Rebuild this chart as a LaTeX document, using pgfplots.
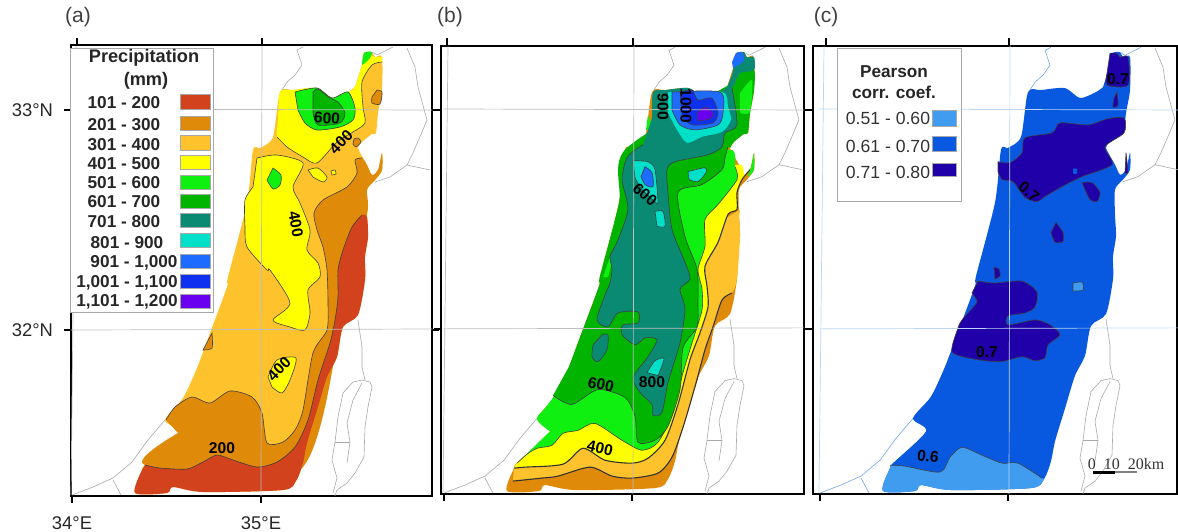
\documentclass[border=0pt]{standalone}
\usepackage{fontspec}
\setmainfont{Liberation Sans}
\newfontfamily\serifx{Liberation Serif}
\usepackage{pgfplots}
\usepackage{pgfplotstable}
\pgfplotsset{compat=1.18}
\definecolor{cR}{HTML}{D2421C}
\definecolor{cO}{HTML}{E08A0A}
\definecolor{cL}{HTML}{FDC22C}
\definecolor{cY}{HTML}{FFFF00}
\definecolor{cG}{HTML}{10F010}
\definecolor{cD}{HTML}{00B400}
\definecolor{cT}{HTML}{0A8A72}
\definecolor{cC}{HTML}{00E0C8}
\definecolor{cB}{HTML}{1E6BFF}
\definecolor{cN}{HTML}{1030F0}
\definecolor{cP}{HTML}{6A00F0}
\definecolor{pL}{HTML}{3F9CEF}
\definecolor{pM}{HTML}{0858E0}
\definecolor{pD}{HTML}{2000A8}
\definecolor{cont}{HTML}{404040}
\definecolor{gridg}{HTML}{BEBEBE}
\definecolor{gridb}{HTML}{BBD6F2}
\definecolor{bord}{HTML}{A8A8A8}
\definecolor{bordb}{HTML}{6FA6E6}
% land
\pgfplotstableread[row sep=\\]{x y\\362 65\\364 53\\372 52\\375 57\\382 57\\382 90\\378 113\\376 133\\372 134\\362 142\\358 148\\367 165\\372 175\\378 170\\382 153\\382 170\\375 180\\367 190\\367 215\\368 237\\365 257\\365 280\\358 315\\343 327\\337 357\\327 377\\317 410\\307 443\\303 463\\296 481\\283 490\\203 492\\173 487\\167 493\\135 493\\142 470\\145 465\\178 433\\165 420\\183 398\\197 368\\210 333\\227 287\\228 277\\247 203\\253 150\\260 148\\273 137\\280 92\\293 90\\317 88\\332 98\\348 92\\355 87\\}\tLand
% borders
\pgfplotstableread[row sep=\\]{x y\\282 90\\287 82\\295 75\\302 65\\297 50\\303 47\\}\bLeb
\pgfplotstableread[row sep=\\]{x y\\372 52\\377 55\\393 47\\}\bFin
\pgfplotstableread[row sep=\\]{x y\\407 48\\415 67\\418 87\\427 120\\413 153\\407 165\\390 177\\375 182\\}\bEast
\pgfplotstableread[row sep=\\]{x y\\407 165\\430 170\\}\bJor
\pgfplotstableread[row sep=\\]{x y\\358 320\\362 347\\362 367\\365 380\\}\bRiv
\pgfplotstableread[row sep=\\]{x y\\353 382\\362 380\\370 382\\372 387\\368 407\\365 427\\364 457\\355 473\\347 483\\337 490\\335 496\\}\bDsR
\pgfplotstableread[row sep=\\]{x y\\353 382\\343 393\\338 417\\335 442\\332 460\\337 478\\333 493\\}\bDsL
\pgfplotstableread[row sep=\\]{x y\\362 383\\353 400\\347 423\\350 442\\347 463\\}\bDsI
\pgfplotstableread[row sep=\\]{x y\\335 442\\350 442\\}\bDsH
\pgfplotstableread[row sep=\\]{x y\\165 420\\148 440\\132 462\\113 478\\93 487\\72 495\\}\bSin
\pgfplotstableread[row sep=\\]{x y\\113 480\\121 495\\}\bSiB
% panel a
\pgfplotstableread[row sep=\\]{x y\\166 420\\175 407\\192 397\\210 403\\230 391\\252 397\\262 413\\267 443\\283 442\\295 430\\303 410\\313 353\\327 330\\328 303\\327 270\\323 247\\317 230\\314 213\\323 200\\347 187\\357 173\\355 160\\362 158\\367 165\\372 175\\378 170\\382 153\\382 170\\375 180\\367 190\\367 215\\345 300\\300 470\\145 465\\178 433\\}\aO
\pgfplotstableread[row sep=\\]{x y\\145 465\\160 468\\187 469\\203 462\\217 455\\233 460\\257 467\\277 462\\295 447\\308 420\\318 380\\330 343\\335 320\\338 297\\338 270\\343 250\\352 227\\362 215\\367 217\\368 237\\365 257\\365 280\\358 315\\343 327\\337 357\\327 377\\317 410\\307 443\\303 463\\296 481\\283 490\\203 492\\173 487\\167 493\\135 493\\142 470\\}\aR
\pgfplotstableread[row sep=\\]{x y\\382 62\\372 65\\362 82\\363 107\\365 123\\353 132\\337 142\\317 163\\303 157\\287 147\\277 137\\278 120\\280 92\\293 90\\317 88\\332 98\\348 92\\355 87\\362 65\\364 53\\375 57\\382 57\\}\aYn
\pgfplotstableread[row sep=\\]{x y\\257 158\\277 155\\303 163\\293 187\\300 203\\310 230\\307 250\\318 263\\320 277\\308 290\\310 313\\305 330\\290 327\\273 320\\290 303\\270 270\\267 270\\247 247\\245 227\\245 200\\253 187\\}\aYw
\pgfplotstableread[row sep=\\]{x y\\268 377\\277 360\\296 358\\290 380\\282 393\\272 387\\}\aYs
\pgfplotstableread[row sep=\\]{x y\\308 170\\318 168\\327 177\\323 182\\313 177\\}\aYi
\pgfplotstableread[row sep=\\]{x y\\331 171\\335 170\\336 174\\332 175\\}\aYd
\pgfplotstableread[row sep=\\]{x y\\273 168\\281 175\\280 185\\273 189\\267 180\\}\aGb
\pgfplotstableread[row sep=\\]{x y\\295 92\\317 88\\332 98\\348 92\\355 108\\353 120\\340 127\\317 130\\305 123\\298 110\\}\aGn
\pgfplotstableread[row sep=\\]{x y\\313 92\\318 89\\330 98\\338 102\\345 113\\340 123\\318 125\\313 113\\}\aDn
\pgfplotstableread[row sep=\\]{x y\\362 65\\364 53\\372 52\\370 58\\365 63\\}\aGf
\pgfplotstableread[row sep=\\]{x y\\377 90\\382 92\\380 104\\372 103\\372 97\\}\aOb
\pgfplotstableread[row sep=\\]{x y\\354 139\\358 138\\361 142\\356 147\\353 144\\}\aOc
\pgfplotstableread[row sep=\\]{x y\\212 333\\212 348\\203 350\\}\aOs
% panel b
\pgfplotstableread[row sep=\\]{x y\\141 483\\170 480\\186 478\\218 469\\240 478\\260 480\\286 475\\300 459\\311 429\\323 388\\333 351\\341 328\\350 301\\360 294\\365 280\\368 237\\367 217\\365 212\\320 250\\178 433\\145 465\\142 470\\}\bL
\pgfplotstableread[row sep=\\]{x y\\142 470\\153 469\\191 466\\211 450\\233 462\\260 465\\276 460\\293 442\\306 406\\318 361\\328 334\\336 308\\335 287\\333 267\\346 243\\356 215\\365 210\\365 193\\370 180\\378 170\\372 175\\367 165\\320 180\\300 300\\178 433\\145 465\\}\bY
\pgfplotstableread[row sep=\\]{x y\\145 465\\155 456\\165 450\\180 447\\191 435\\206 432\\223 425\\250 442\\270 452\\286 444\\301 414\\311 374\\321 341\\330 311\\330 290\\326 270\\333 247\\333 220\\346 205\\365 180\\363 167\\358 150\\300 170\\260 280\\181 399\\165 420\\178 433\\}\bG
\pgfplotstableread[row sep=\\]{x y\\181 397\\200 406\\226 391\\253 399\\263 418\\266 444\\283 442\\296 428\\308 391\\311 349\\325 328\\326 304\\325 270\\313 237\\306 193\\330 185\\350 170\\353 158\\356 147\\358 148\\362 142\\372 134\\376 133\\378 113\\382 90\\382 70\\368 73\\361 87\\353 87\\253 150\\247 203\\228 277\\227 287\\210 333\\197 368\\}\bD
\pgfplotstableread[row sep=\\]{x y\\360 88\\365 125\\353 133\\350 147\\336 155\\303 162\\295 170\\296 193\\300 230\\313 263\\318 280\\308 290\\313 310\\308 344\\296 384\\290 414\\281 417\\280 406\\268 394\\261 379\\276 358\\285 341\\273 339\\263 346\\250 336\\251 326\\266 324\\266 313\\246 314\\236 328\\225 321\\233 296\\238 284\\240 270\\238 257\\245 243\\256 210\\250 180\\255 158\\266 148\\271 145\\276 130\\280 117\\281 92\\293 90\\317 88\\332 98\\348 92\\355 87\\}\bT
\pgfplotstableread[row sep=\\]{x y\\362 65\\364 53\\372 52\\375 57\\382 57\\382 70\\368 73\\361 87\\355 88\\360 75\\}\bTf
\pgfplotstableread[row sep=\\]{x y\\360 62\\364 53\\370 52\\372 60\\366 65\\361 68\\}\bBf
\pgfplotstableread[row sep=\\]{x y\\230 336\\236 336\\235 351\\226 363\\220 358\\221 346\\}\bTi
\pgfplotstableread[row sep=\\]{x y\\368 93\\380 80\\378 112\\368 113\\}\bGne
\pgfplotstableread[row sep=\\]{x y\\231 278\\241 250\\240 262\\236 278\\}\bGw
\pgfplotstableread[row sep=\\]{x y\\276 115\\280 127\\274 130\\}\bGc
\pgfplotstableread[row sep=\\]{x y\\382 153\\382 170\\376 177\\379 168\\}\bGl
\pgfplotstableread[row sep=\\]{x y\\296 92\\350 92\\356 107\\359 120\\350 132\\330 137\\315 143\\305 130\\296 113\\}\bCn
\pgfplotstableread[row sep=\\]{x y\\300 92\\348 92\\351 113\\346 125\\323 130\\308 125\\300 110\\}\bBn
\pgfplotstableread[row sep=\\]{x y\\308 92\\320 90\\326 100\\340 98\\346 113\\341 123\\320 125\\310 117\\}\bNn
\pgfplotstableread[row sep=\\]{x y\\325 113\\333 107\\341 113\\338 119\\326 121\\}\bPn
\pgfplotstableread[row sep=\\]{x y\\261 161\\276 162\\283 170\\286 203\\283 202\\270 190\\263 178\\}\bCw
\pgfplotstableread[row sep=\\]{x y\\273 167\\280 173\\281 187\\273 185\\269 177\\}\bBw
\pgfplotstableread[row sep=\\]{x y\\283 212\\291 212\\293 227\\285 227\\}\bCm
\pgfplotstableread[row sep=\\]{x y\\316 172\\333 168\\334 173\\326 182\\317 180\\}\bCe
\pgfplotstableread[row sep=\\]{x y\\275 374\\283 362\\292 360\\286 377\\}\bCs
% panel c
\pgfplotstableread[row sep=\\]{x y\\142 467\\157 468\\192 474\\202 459\\214 449\\234 457\\254 465\\270 465\\294 480\\296 481\\283 490\\203 492\\173 487\\167 493\\135 493\\142 470\\}\cL
\pgfplotstableread[row sep=\\]{x y\\250 162\\262 163\\274 153\\277 138\\304 133\\312 123\\340 125\\359 119\\376 118\\376 133\\357 147\\364 165\\334 177\\314 187\\297 197\\289 202\\277 198\\265 182\\254 180\\250 172\\}\cDa
\pgfplotstableread[row sep=\\]{x y\\230 282\\247 284\\274 282\\289 293\\287 308\\277 314\\260 317\\260 326\\287 321\\302 326\\312 336\\300 346\\297 359\\287 362\\274 358\\252 363\\224 360\\204 353\\210 329\\214 321\\220 314\\229 303\\224 294\\}\cDb
\pgfplotstableread[row sep=\\]{x y\\362 53\\369 53\\372 57\\380 57\\380 85\\359 85\\359 73\\}\cDf
\pgfplotstableread[row sep=\\]{x y\\369 92\\370 105\\365 107\\366 98\\}\cDg
\pgfplotstableread[row sep=\\]{x y\\334 183\\344 183\\352 193\\349 202\\342 200\\337 190\\}\cDh
\pgfplotstableread[row sep=\\]{x y\\308 223\\315 233\\315 242\\307 243\\303 233\\}\cDi
\pgfplotstableread[row sep=\\]{x y\\246 268\\251 270\\252 277\\247 280\\}\cDj
\pgfplotstableread[row sep=\\]{x y\\378 153\\380 173\\377 173\\}\cDk
\pgfplotstableread[row sep=\\]{x y\\325 284\\334 283\\335 291\\325 292\\}\cLa
\pgfplotstableread[row sep=\\]{x y\\325 169\\329 169\\329 174\\325 174\\}\cMa
% gridlines
\pgfplotstableread[row sep=\\]{x y\\71 109\\432 110\\}\gA
\pgfplotstableread[row sep=\\]{x y\\71 330\\432 329\\}\gB
\pgfplotstableread[row sep=\\]{x y\\262 45\\261 496\\}\gC
\pgfplotstableread[row sep=\\]{x y\\76 46\\71 495\\}\gD

\newcommand\pg[2]{\addplot[fill=#1,draw=none,smooth,tension=.45] table {#2} -- cycle;}
\newcommand\pc[2]{\addplot[fill=#1,draw=cont,line width=.3pt,smooth,tension=.45] table {#2} -- cycle;}
\newcommand\ct[2]{\addplot[draw=cont,line width=.3pt,smooth,tension=.45,skip coords between index={#1}{999}] table {#2};}
\newcommand\ctb[2]{\addplot[draw=black!80,line width=.55pt,smooth,tension=.45,skip coords between index={#1}{999}] table {#2};}
\newcommand\bx[5]{\addplot[fill=#1,draw=bord,line width=.5pt] coordinates {(#2,#3)(#4,#3)(#4,#5)(#2,#5)} -- cycle;}
\newcommand\bline[2]{\addplot[draw=#1,line width=.3pt] table {#2};}
\newcommand\borders[1]{\bline{#1}\bLeb\bline{#1}\bFin\bline{bord}\bEast\bline{bord}\bJor\bline{bord}\bRiv\bline{bord}\bDsR\bline{bord}\bDsL\bline{bord}\bDsI\bline{bord}\bDsH\bline{#1}\bSin\bline{#1}\bSiB}
\newcommand\gridl[1]{\addplot[draw=#1,line width=.35pt] table {\gA};\addplot[draw=#1,line width=.35pt] table {\gB};\addplot[draw=#1,line width=.35pt] table {\gC};\addplot[draw=#1,line width=.35pt] table {\gD};}
\newcommand\topt[1]{\addplot[black,line width=1.1pt] coordinates {(#1,45.5)(#1,38)};}
\pgfplotsset{mapax/.style={scale only axis,y dir=reverse,clip=false,
  axis line style={black,line width=1.1pt},
  tick style={black,line width=1.1pt},major tick length=3.5pt,tick align=outside,
  xtick pos=bottom,ytick pos=both,ytick={110,330},
  tick label style={font=\fontsize{9.2}{10}\selectfont,text=black!85},
  xticklabels={},yticklabels={}}}
\tikzset{lab/.style={font=\bfseries\fontsize{7.8}{9}\selectfont,text=black,inner sep=0pt},
  pan/.style={font=\fontsize{10.5}{11}\selectfont,text=black!75,inner sep=0pt},
  legt/.style={font=\bfseries\fontsize{8.6}{9}\selectfont,text=black!85,inner sep=0pt},
  legh/.style={font=\bfseries\fontsize{9.1}{10}\selectfont,text=black!85,inner sep=0pt},
  legr/.style={font=\fontsize{8.8}{9}\selectfont,text=black!80,inner sep=0pt}}
\begin{document}
\begin{tikzpicture}
\path[use as bounding box] (0,0) rectangle (589pt,-265.5pt);
% ---------- (a)
\begin{axis}[mapax,at={(35.5pt,-248pt)},anchor=south west,width=180.5pt,height=225.5pt,
  xmin=71,xmax=432,ymin=45,ymax=496,xtick={72,261},xticklabels={34°E,35°E},yticklabels={33°N,32°N},
  xticklabel style={yshift=-3.5pt},yticklabel style={xshift=-2pt}]
\pg{cL}{\tLand}
\borders{bord}
\pg{cO}{\aO}\ct{23}{\aO}
\pg{cR}{\aR}\ct{18}{\aR}
\pg{cY}{\aYn}\ct{11}{\aYn}
\pc{cY}{\aYw}\pc{cY}{\aYs}\pc{cY}{\aYi}\pc{cY}{\aYd}
\pc{cG}{\aGb}\pc{cG}{\aGn}\pc{cD}{\aDn}\pg{cG}{\aGf}
\pc{cO}{\aOb}\pc{cO}{\aOc}\pc{cO}{\aOs}
\gridl{gridg}
\topt{77}\topt{262}
\bx{white}{71}{48}{213}{312}
\node[legh] at (axis cs:144,58) {Precipitation};
\node[legh] at (axis cs:146,81) {(mm)};
\bx{cR}{180}{94}{210}{109}\node[legt] at (axis cs:124,103) {101 - 200};
\bx{cO}{180}{116}{210}{130}\node[legt] at (axis cs:124,125) {201 - 300};
\bx{cL}{180}{135}{210}{150}\node[legt] at (axis cs:124,145) {301 - 400};
\bx{cY}{180}{155}{210}{169}\node[legt] at (axis cs:124,164) {401 - 500};
\bx{cG}{180}{175}{210}{189}\node[legt] at (axis cs:124,183) {501 - 600};
\bx{cD}{180}{194}{210}{208}\node[legt] at (axis cs:124,202) {601 - 700};
\bx{cT}{180}{213}{210}{227}\node[legt] at (axis cs:124,222) {701 - 800};
\bx{cC}{180}{233}{210}{247}\node[legt] at (axis cs:127,243) {801 - 900};
\bx{cB}{180}{254}{210}{268}\node[legt] at (axis cs:134,263) {901 - 1,000};
\bx{cN}{180}{274}{210}{288}\node[legt] at (axis cs:127,283) {1,001 - 1,100};
\bx{cP}{180}{294}{210}{308}\node[legt] at (axis cs:127,302) {1,101 - 1,200};
\node[lab,rotate=-4] at (axis cs:327,118) {600};
\node[lab,rotate=45] at (axis cs:341,142) {400};
\node[lab,rotate=-80] at (axis cs:296,224) {400};
\node[lab,rotate=45] at (axis cs:279,369) {400};
\node[lab] at (axis cs:222,448) {200};
\node[pan] at (axis cs:78,17) {(a)};
\end{axis}
% ---------- (b)
\begin{axis}[mapax,at={(220.5pt,-247pt)},anchor=south west,width=181.5pt,height=224pt,
  xmin=69,xmax=432,ymin=45.7,ymax=496,xtick={72,260}]
\pg{cO}{\tLand}
\borders{bord}
\pg{cL}{\bL}\ctb{14}{\bL}
\pg{cY}{\bY}\ctb{20}{\bY}
\pg{cG}{\bG}\ct{21}{\bG}
\pg{cD}{\bD}\ct{19}{\bD}
\pg{cG}{\bGne}\pg{cG}{\bGw}\pg{cG}{\bGc}\pg{cG}{\bGl}
\pg{cT}{\bT}\ct{41}{\bT}
\pg{cT}{\bTf}\pg{cB}{\bBf}
\pc{cT}{\bTi}
\pg{cC}{\bCn}\pc{cB}{\bBn}\pc{cN}{\bNn}\pc{cP}{\bPn}
\pc{cC}{\bCw}\pc{cB}{\bBw}\pc{cC}{\bCm}\pc{cC}{\bCe}\pc{cC}{\bCs}
\gridl{gridg}
\topt{75}\topt{261}
\node[lab,rotate=-90] at (axis cs:291,107) {900};
\node[lab,rotate=-90] at (axis cs:314,106) {1000};
\node[lab,rotate=-40] at (axis cs:273,195) {600};
\node[lab] at (axis cs:280,384) {800};
\node[lab,rotate=-12] at (axis cs:229,386) {600};
\node[lab,rotate=-12] at (axis cs:228,450) {400};
\node[pan] at (axis cs:78,17) {(b)};
\end{axis}
% ---------- (c)
\begin{axis}[mapax,at={(406.5pt,-247pt)},anchor=south west,width=182pt,height=224pt,
  xmin=65,xmax=429,ymin=45.7,ymax=496,xtick={72,260}]
\pg{pM}{\tLand}
\borders{bordb}
\pg{pL}{\cL}\ct{9}{\cL}
\pc{pD}{\cDa}\pc{pD}{\cDb}\pc{pD}{\cDf}\pc{pD}{\cDg}\pc{pD}{\cDh}\pc{pD}{\cDi}\pc{pD}{\cDj}\pc{pD}{\cDk}
\pc{pL}{\cLa}\pg{pM}{\cMa}
\gridl{gridb}
\topt{78}\topt{261}
\bx{white}{89}{48}{213}{202}
\node[legt] at (axis cs:146,71) {Pearson};
\node[legt] at (axis cs:146,92) {corr. coef.};
\bx{pL}{184}{111}{208}{127}\node[legr] at (axis cs:140,119) {0.51 - 0.60};
\bx{pM}{184}{137}{208}{152}\node[legr] at (axis cs:140,147) {0.61 - 0.70};
\bx{pD}{184}{164}{208}{177}\node[legr] at (axis cs:140,173) {0.71 - 0.80};
\node[lab] at (axis cs:370,79) {0.7};
\node[lab,rotate=-40] at (axis cs:281,192) {0.7};
\node[lab] at (axis cs:239,353) {0.7};
\node[lab,rotate=-8] at (axis cs:180,458) {0.6};
\addplot[black,line width=1.5pt] coordinates {(345,474)(367,474)};
\addplot[gray,line width=1.2pt] coordinates {(367,474)(389,474)};
\node[font=\serifx\fontsize{8}{8}\selectfont,text=black!80,inner sep=0pt] at (axis cs:378,466) {0\ \ 10\ \ 20km};
\node[pan] at (axis cs:78,17) {(c)};
\end{axis}
\end{tikzpicture}
\end{document}
